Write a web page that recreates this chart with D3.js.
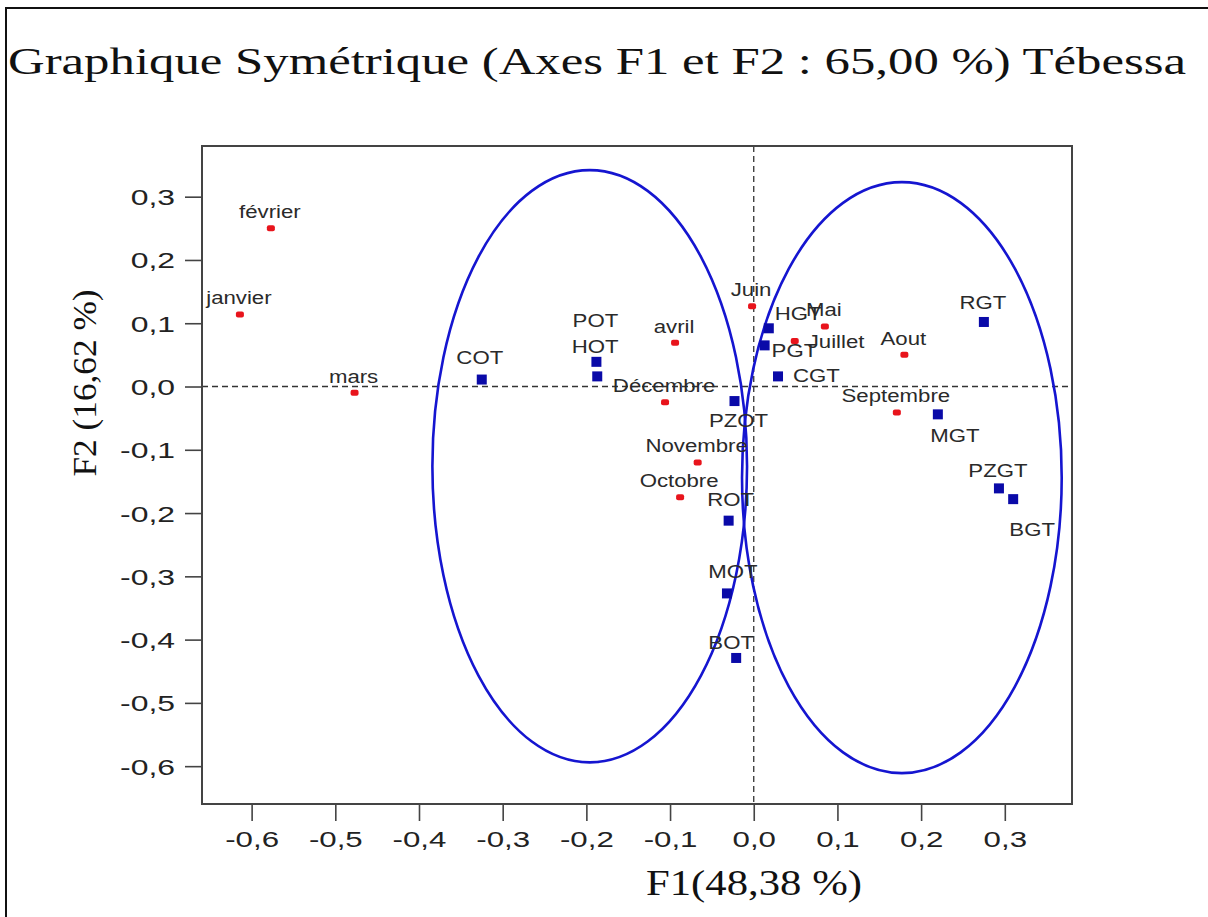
<!DOCTYPE html>
<html>
<head>
<meta charset="utf-8">
<script src="https://cdn.jsdelivr.net/npm/d3@7"></script>
<style>
  html, body { margin: 0; padding: 0; background: #fff; }
  svg { display: block; }
</style>
</head>
<body>
<svg id="chart" width="1208" height="917"></svg>
<script>
// Correspondence analysis map, Tébessa: months (rows) and variables (columns) on F1/F2.
const titleText = "Graphique Symétrique (Axes F1 et F2 : 65,00 %) Tébessa";
const xTitle = "F1(48,38 %)";
const yTitle = "F2 (16,62 %)";

const xTicks = [-0.6, -0.5, -0.4, -0.3, -0.2, -0.1, 0.0, 0.1, 0.2, 0.3];
const yTicks = [0.3, 0.2, 0.1, 0.0, -0.1, -0.2, -0.3, -0.4, -0.5, -0.6];

// Months (red points)
const months = ["janvier", "février", "mars", "avril", "Mai", "Juin", "Juillet", "Aout", "Septembre", "Octobre", "Novembre", "Décembre"];
const monthF1 = [-0.614, -0.577, -0.477, -0.094, 0.085, -0.002, 0.049, 0.180, 0.171, -0.088, -0.067, -0.106];
const monthF2 = [0.114, 0.250, -0.010, 0.069, 0.095, 0.127, 0.072, 0.050, -0.041, -0.175, -0.120, -0.025];

// Variables (blue squares)
const variables = ["COT", "POT", "HOT", "PZOT", "ROT", "MOT", "BOT", "HGT", "PGT", "CGT", "RGT", "MGT", "PZGT", "BGT"];
const varF1 = [-0.325, -0.188, -0.187, -0.023, -0.030, -0.032, -0.021, 0.018, 0.013, 0.029, 0.275, 0.220, 0.293, 0.310];
const varF2 = [0.011, 0.039, 0.016, -0.023, -0.212, -0.327, -0.429, 0.092, 0.065, 0.016, 0.102, -0.044, -0.161, -0.178];

// Group ellipses: centre and half-axes in F1/F2 units
const ellipseF1 = [-0.196, 0.177];
const ellipseF2 = [-0.126, -0.144];
const ellipseRx = [0.188, 0.191];
const ellipseRy = [0.468, 0.467];

// Label placement relative to each point: [dx, dy, anchor]
const monthLabelPos = {
  "Juillet": [13, 7, "start"]
};
const varLabelPos = {
  "POT": [-1, -35, "middle"],
  "HOT": [-2, -23, "middle"],
  "PZOT": [4, 26, "middle"],
  "ROT": [2, -15, "middle"],
  "MOT": [6, -15, "middle"],
  "BOT": [-5, -9, "middle"],
  "HGT": [6, -8, "start"],
  "PGT": [7, 12, "start"],
  "CGT": [15, 6, "start"],
  "RGT": [-1, -13, "middle"],
  "MGT": [17, 28, "middle"],
  "PZGT": [-1, -11, "middle"],
  "BGT": [19, 37, "middle"]
};

const svg = d3.select("#chart");

// Page frame
svg.append("rect")
  .attr("x", 6).attr("y", 8).attr("width", 1230).attr("height", 940)
  .attr("fill", "none").attr("stroke", "#111").attr("stroke-width", 2);

// Plot area
const plot = { left: 202, right: 1072, top: 146, bottom: 804 };
const x = d3.scaleLinear().domain([-0.6593, 0.3803]).range([plot.left, plot.right]);
const y = d3.scaleLinear().domain([0.3801, -0.6598]).range([plot.top, plot.bottom]);

const fmt = d => d3.format(".1f")(d).replace(".", ",").replace("−", "-");

// Title
svg.append("text")
  .attr("x", 8).attr("y", 74)
  .attr("textLength", 1178).attr("lengthAdjust", "spacingAndGlyphs")
  .attr("font-family", "'Liberation Serif', 'Times New Roman', serif")
  .attr("font-size", 38).attr("fill", "#111")
  .text(titleText);

// Reference lines through the origin
const g = svg.append("g");
g.append("line")
  .attr("x1", plot.left).attr("x2", plot.right)
  .attr("y1", y(0)).attr("y2", y(0))
  .attr("stroke", "#333").attr("stroke-width", 1.3).attr("stroke-dasharray", "6,4");
g.append("line")
  .attr("x1", x(0)).attr("x2", x(0))
  .attr("y1", plot.top).attr("y2", plot.bottom)
  .attr("stroke", "#333").attr("stroke-width", 1.3).attr("stroke-dasharray", "6,4");

// Ellipses
g.selectAll("ellipse.grp")
  .data(d3.range(ellipseF1.length))
  .join("ellipse")
  .attr("class", "grp")
  .attr("cx", i => x(ellipseF1[i]))
  .attr("cy", i => y(ellipseF2[i]))
  .attr("rx", i => x(ellipseF1[i] + ellipseRx[i]) - x(ellipseF1[i]))
  .attr("ry", i => y(ellipseF2[i] - ellipseRy[i]) - y(ellipseF2[i]))
  .attr("fill", "none").attr("stroke", "#1515d0").attr("stroke-width", 2.6);

// Axes
const xAxis = d3.axisBottom(x).tickValues(xTicks).tickSize(17).tickFormat(fmt);
const yAxis = d3.axisLeft(y).tickValues(yTicks).tickSize(17).tickFormat(fmt);

const gx = svg.append("g").attr("transform", `translate(0,${plot.bottom})`).call(xAxis);
const gy = svg.append("g").attr("transform", `translate(${plot.left},0)`).call(yAxis);
[gx, gy].forEach(a => {
  a.select(".domain").remove();
  a.selectAll(".tick line").attr("stroke", "#444").attr("stroke-width", 1.6);
  a.selectAll(".tick text")
    .attr("font-family", "'Liberation Sans', Arial, sans-serif")
    .attr("font-size", 22).attr("fill", "#222");
});
gx.selectAll(".tick text")
  .attr("y", 0).attr("dy", 0)
  .attr("transform", "translate(0,43) scale(1.42,1)");
gy.selectAll(".tick text")
  .attr("x", 0).attr("dy", 0)
  .attr("transform", "translate(-27,8) scale(1.45,1)");

// Plot frame
svg.append("rect")
  .attr("x", plot.left).attr("y", plot.top)
  .attr("width", plot.right - plot.left).attr("height", plot.bottom - plot.top)
  .attr("fill", "none").attr("stroke", "#444").attr("stroke-width", 2);

// Axis titles
svg.append("text")
  .attr("x", 754).attr("y", 895)
  .attr("text-anchor", "middle")
  .attr("textLength", 216).attr("lengthAdjust", "spacingAndGlyphs")
  .attr("font-family", "'Liberation Serif', 'Times New Roman', serif")
  .attr("font-size", 36).attr("fill", "#111")
  .text(xTitle);
svg.append("text")
  .attr("transform", "translate(96,383) rotate(-90)")
  .attr("text-anchor", "middle")
  .attr("textLength", 187).attr("lengthAdjust", "spacingAndGlyphs")
  .attr("font-family", "'Liberation Serif', 'Times New Roman', serif")
  .attr("font-size", 34).attr("fill", "#111")
  .text(yTitle);

const labelFont = "'Liberation Sans', Arial, sans-serif";

// Month points
const monthData = months.map((m, i) => ({ name: m, f1: monthF1[i], f2: monthF2[i] }));
const mg = svg.append("g");
mg.selectAll("rect")
  .data(monthData)
  .join("rect")
  .attr("x", d => x(d.f1) - 4).attr("y", d => y(d.f2) - 3)
  .attr("width", 8).attr("height", 6).attr("rx", 2)
  .attr("fill", "#e8141c");
mg.selectAll("text")
  .data(monthData)
  .join("text")
  .attr("transform", d => {
    const p = monthLabelPos[d.name] || [-1, -10, "middle"];
    return `translate(${x(d.f1) + p[0]},${y(d.f2) + p[1]}) scale(1.2,1)`;
  })
  .attr("text-anchor", d => (monthLabelPos[d.name] || [0, 0, "middle"])[2])
  .attr("font-family", labelFont).attr("font-size", 18.5).attr("fill", "#2a2a2a")
  .text(d => d.name);

// Variable points
const varData = variables.map((v, i) => ({ name: v, f1: varF1[i], f2: varF2[i] }));
const vg = svg.append("g");
vg.selectAll("rect")
  .data(varData)
  .join("rect")
  .attr("x", d => x(d.f1) - 5).attr("y", d => y(d.f2) - 5)
  .attr("width", 10).attr("height", 10)
  .attr("fill", "#0a0aa8");
vg.selectAll("text")
  .data(varData)
  .join("text")
  .attr("transform", d => {
    const p = varLabelPos[d.name] || [-2, -16, "middle"];
    return `translate(${x(d.f1) + p[0]},${y(d.f2) + p[1]}) scale(1.2,1)`;
  })
  .attr("text-anchor", d => (varLabelPos[d.name] || [0, 0, "middle"])[2])
  .attr("font-family", labelFont).attr("font-size", 18.5).attr("fill", "#2a2a2a")
  .text(d => d.name);
</script>
</body>
</html>
